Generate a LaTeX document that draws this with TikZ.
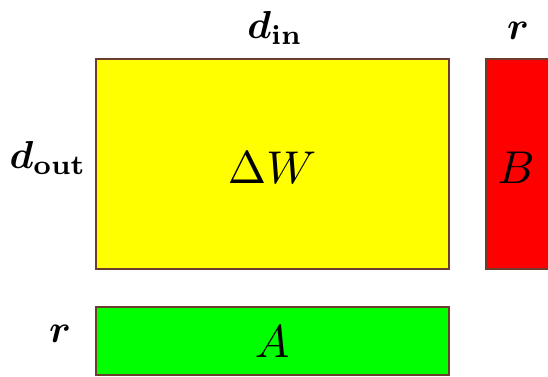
\documentclass[tikz,border=0pt]{standalone}
\usepackage{graphicx}
\usepackage{bm}
\begin{document}
\begin{tikzpicture}[x=1pt,y=-1pt,
  mat/.style={draw=brd,line width=1.6pt},
  lbl/.style={inner sep=0pt},
]
\definecolor{brd}{RGB}{110,60,45}
\definecolor{cy}{RGB}{255,255,0}
\definecolor{cr}{RGB}{255,0,0}
\definecolor{cg}{RGB}{0,255,0}
\newcommand{\bigtxt}[1]{\scalebox{4.6}{#1}}
\newcommand{\dimtxt}[1]{\scalebox{3.9}{#1}}
\useasboundingbox (0,0) rectangle (548,376);
\begin{scope}
\clip (0,0) rectangle (548,376);
\node[mat,fill=cy,minimum width=353pt,minimum height=210pt,anchor=north west,inner sep=0pt] (W) at (95,58) {};
\node[mat,fill=cr,minimum width=80pt,minimum height=210pt,anchor=north west,inner sep=0pt] (B) at (485,58) {};
\node[mat,fill=cg,minimum width=353pt,minimum height=68pt,anchor=north west,inner sep=0pt] (A) at (95,306) {};
\end{scope}
\node[lbl] (tW) at (272,168) {\bigtxt{$\Delta W$}};
\node[lbl] (tB) at (516,168) {\bigtxt{$B$}};
\node[lbl] (tA) at (272,342) {\bigtxt{$A$}};
\node[lbl] (din) at (275,28) {\dimtxt{$\bm{d_{\mathrm{in}}}$}};
\node[lbl] (rtop) at (518,31) {\dimtxt{$\bm{r}$}};
\node[lbl] (dout) at (48,158) {\dimtxt{$\bm{d_{\mathrm{out}}}$}};
\node[lbl] (rbot) at (60,334) {\dimtxt{$\bm{r}$}};
\end{tikzpicture}
\end{document}
